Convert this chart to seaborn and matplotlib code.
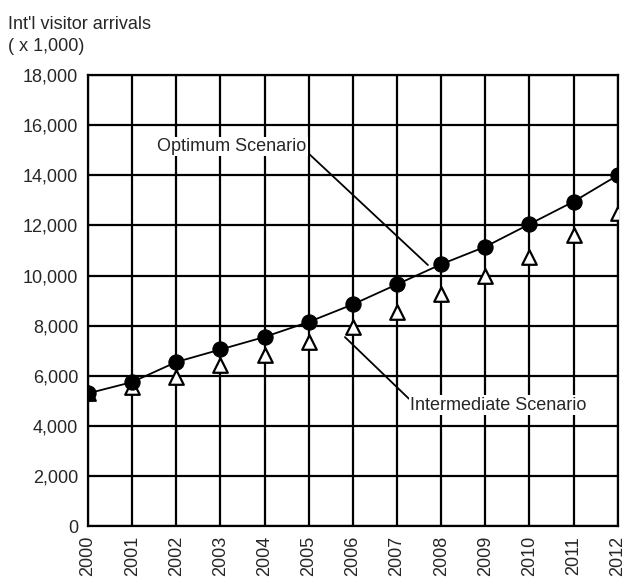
import pandas as pd
import seaborn as sns
import matplotlib
matplotlib.use('Agg')
import matplotlib.pyplot as plt

years = list(range(2000, 2013))
optimum = [5300, 5750, 6550, 7050, 7550, 8150, 8850, 9650, 10450, 11150, 12050, 12950, 14000]
intermediate = [5300, 5550, 5950, 6450, 6850, 7350, 7950, 8550, 9250, 10000, 10750, 11600, 12500]
y_ticks = list(range(0, 18001, 2000))

sns.set_style('white')
plt.rcParams['font.family'] = ['Liberation Sans', 'DejaVu Sans']

df = pd.DataFrame({'year': years, 'optimum': optimum, 'intermediate': intermediate})

fig = plt.figure(figsize=(6.24, 5.77), dpi=100)
ax = fig.add_axes([0.141, 0.088, 0.849, 0.782])

sns.scatterplot(data=df, x='year', y='intermediate', marker='^', s=110,
                facecolor='white', edgecolor='black', linewidth=1.6, ax=ax, zorder=3)
sns.lineplot(data=df, x='year', y='optimum', color='black', linewidth=1.3,
             marker='o', markersize=11, markerfacecolor='black', markeredgecolor='black',
             ax=ax, zorder=4)

ax.set_xlim(2000, 2012)
ax.set_ylim(0, 18000)
ax.set_xticks(years)
ax.set_xticklabels([str(y) for y in years], rotation=90, fontsize=13)
ax.set_yticks(y_ticks)
ax.set_yticklabels([f'{v:,}' for v in y_ticks], fontsize=13)
ax.set_xlabel('')
ax.set_ylabel('')
ax.grid(True, color='black', linewidth=1.6)
ax.set_axisbelow(True)
for s in ax.spines.values():
    s.set_color('black')
    s.set_linewidth(1.6)
ax.tick_params(axis='both', length=4, color='black', pad=3)

fig.text(0.013, 0.905, "Int'l visitor arrivals\n( x 1,000)", fontsize=13,
         va='bottom', ha='left', linespacing=1.35)

ax.annotate('Optimum Scenario', xy=(2007.7, 10420), xytext=(2004.95, 15150),
            fontsize=13, ha='right', va='center',
            arrowprops=dict(arrowstyle='-', color='black', lw=1.3, shrinkA=0, shrinkB=0,
                            relpos=(1.0, 0.2)),
            bbox=dict(facecolor='white', edgecolor='none', pad=1), zorder=5)
ax.annotate('Intermediate Scenario', xy=(2005.82, 7545), xytext=(2007.3, 4830),
            fontsize=13, ha='left', va='center',
            arrowprops=dict(arrowstyle='-', color='black', lw=1.3, shrinkA=0, shrinkB=0,
                            relpos=(0.0, 0.8)),
            bbox=dict(facecolor='white', edgecolor='none', pad=1), zorder=5)

plt.savefig('out.png', dpi=100)
plt.close()
